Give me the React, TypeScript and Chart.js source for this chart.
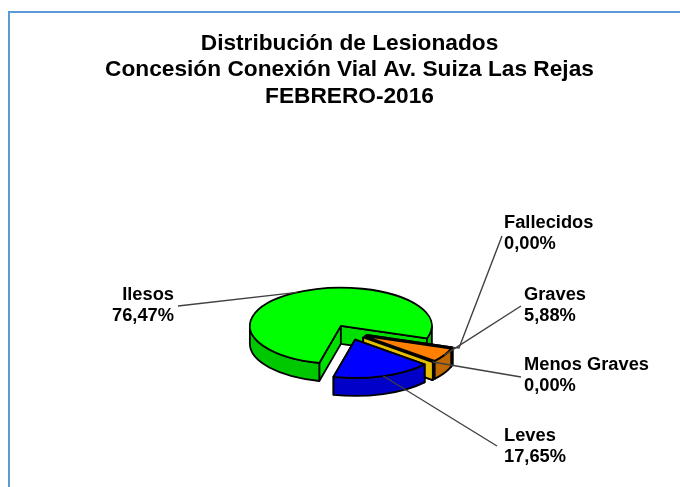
import React, { useEffect, useRef } from "react";
import { Chart, registerables } from "chart.js";

Chart.register(...registerables);

const titleLines = ["Distribución de Lesionados", "Concesión Conexión Vial Av. Suiza Las Rejas", "FEBRERO-2016"];
const categories = ["Fallecidos", "Graves", "Menos Graves", "Leves", "Ilesos"];
const percentages = [0, 5.88, 0, 17.65, 76.47];

const topColors = ["#FF0000", "#FF8000", "#FFCC00", "#0000FF", "#00FF00"];
const wallColors = ["#B00000", "#C06800", "#C8A000", "#0000C8", "#00C800"];
const faceColors = ["#400000", "#5A3000", "#E6BE00", "#0000A0", "#00E000"];
const paintOrder = [4, 0, 1, 2, 3];

// label text anchor (x, first baseline-middle y, alignment) and end of the leader line
const labelX = [504, 524, 524, 504, 174];
const labelY = [223, 295, 365, 436, 295];
const labelAlign = ["left", "left", "left", "left", "right"];
const leaderEndX = [502, 521, 521, 497, 178];
const leaderEndY = [236, 306, 377, 446, 306];
const leaderElbowX = [459, null, null, null, null];
const leaderElbowY = [348, null, null, null, null];

const TILT = 0.42;
const DEPTH = 18;
const EXPLODE = 72; // Chart.js moves an arc by offset / 4 and grows it by the same amount
const OUTLINE = "#000000";

function geometry(arc: any) {
  const p = arc.getProps(["x", "y", "startAngle", "endAngle", "outerRadius"], true);
  const mid = (p.startAngle + p.endAngle) / 2;
  const d = (arc.options.offset || 0) / 4;
  const ox = p.x + Math.cos(mid) * d;
  const oy = p.y + Math.sin(mid) * d * TILT;
  return { ...p, outerRadius: p.outerRadius + d, mid, ox, oy };
}

const pie3d = {
  id: "pie3d",
  beforeDatasetDraw(chart: any) {
    const ctx = chart.ctx;
    const arcs = chart.getDatasetMeta(0).data;
    ctx.save();
    ctx.lineWidth = 1.8;
    ctx.strokeStyle = OUTLINE;
    ctx.lineJoin = "round";
    for (const i of paintOrder) {
      const arc = arcs[i];
      const g = geometry(arc);
      const R = g.outerRadius;
      const Ry = R * TILT;
      // radial cut faces
      ctx.fillStyle = faceColors[i];
      for (const a of [g.startAngle, g.endAngle]) {
        const ex = g.ox + Math.cos(a) * R;
        const ey = g.oy + Math.sin(a) * Ry;
        ctx.beginPath();
        ctx.moveTo(g.ox, g.oy);
        ctx.lineTo(ex, ey);
        ctx.lineTo(ex, ey + DEPTH);
        ctx.lineTo(g.ox, g.oy + DEPTH);
        ctx.closePath();
        ctx.fill();
        ctx.stroke();
      }
      // outer curved wall: only the part that faces the viewer
      ctx.fillStyle = wallColors[i];
      for (let n = 0; n < 2; n++) {
        const a0 = Math.max(g.startAngle, 2 * Math.PI * n);
        const a1 = Math.min(g.endAngle, Math.PI + 2 * Math.PI * n);
        if (a1 <= a0) continue;
        ctx.beginPath();
        ctx.ellipse(g.ox, g.oy, R, Ry, 0, a0, a1);
        ctx.ellipse(g.ox, g.oy + DEPTH, R, Ry, 0, a1, a0, true);
        ctx.closePath();
        ctx.fill();
        ctx.stroke();
      }
      // top face, from the geometry of the library's arc element
      if (g.endAngle > g.startAngle) {
        ctx.fillStyle = arc.options.backgroundColor;
        ctx.beginPath();
        ctx.moveTo(g.ox, g.oy);
        ctx.ellipse(g.ox, g.oy, R, Ry, 0, g.startAngle, g.endAngle);
        ctx.closePath();
        ctx.fill();
        ctx.stroke();
      }
    }
    ctx.restore();
    return false;
  },
  afterDatasetsDraw(chart: any) {
    const ctx = chart.ctx;
    const arcs = chart.getDatasetMeta(0).data;
    ctx.save();
    ctx.strokeStyle = "#404040";
    ctx.lineWidth = 1.4;
    ctx.fillStyle = "#000000";
    ctx.font = 'bold 18.3px "Liberation Sans"';
    ctx.textBaseline = "middle";
    categories.forEach((name, i) => {
      const g = geometry(arcs[i]);
      ctx.beginPath();
      ctx.moveTo(g.ox + Math.cos(g.mid) * g.outerRadius, g.oy + Math.sin(g.mid) * g.outerRadius * TILT);
      if (leaderElbowX[i] !== null) ctx.lineTo(leaderElbowX[i], leaderElbowY[i]);
      ctx.lineTo(leaderEndX[i], leaderEndY[i]);
      ctx.stroke();
      ctx.textAlign = labelAlign[i];
      ctx.fillText(name, labelX[i], labelY[i]);
      ctx.fillText(percentages[i].toFixed(2).replace(".", ",") + "%", labelX[i], labelY[i] + 21);
    });
    ctx.restore();
  },
};

export default function App() {
  const ref = useRef<HTMLCanvasElement>(null);
  useEffect(() => {
    const chart = new Chart(ref.current as HTMLCanvasElement, {
      type: "pie",
      data: {
        labels: categories,
        datasets: [
          {
            data: percentages,
            backgroundColor: topColors,
            borderWidth: 0,
            offset: EXPLODE,
          },
        ],
      },
      options: {
        animation: false,
        responsive: false,
        radius: 73,
        rotation: 109,
        layout: { padding: { left: 19, bottom: 0 } },
        events: [],
        plugins: {
          legend: { display: false },
          tooltip: { enabled: false },
          title: {
            display: true,
            text: titleLines,
            color: "#000000",
            font: { family: '"Liberation Sans"', size: 22.7, weight: "bold", lineHeight: 1.16 },
            padding: { top: 30.5, bottom: 68.5 },
          },
        },
      } as any,
      plugins: [pie3d as any],
    });
    return () => chart.destroy();
  }, []);
  return (
    <div style={{ position: "absolute", left: 0, top: 0, width: 680, height: 487, overflow: "hidden", background: "#fff" }}>
      <div style={{ position: "absolute", left: 8, top: 11, right: -4, bottom: -4, border: "2px solid #5B9BD5" }} />
      <canvas ref={ref} width={680} height={487} style={{ position: "absolute", left: 0, top: 0, display: "block" }} />
    </div>
  );
}
